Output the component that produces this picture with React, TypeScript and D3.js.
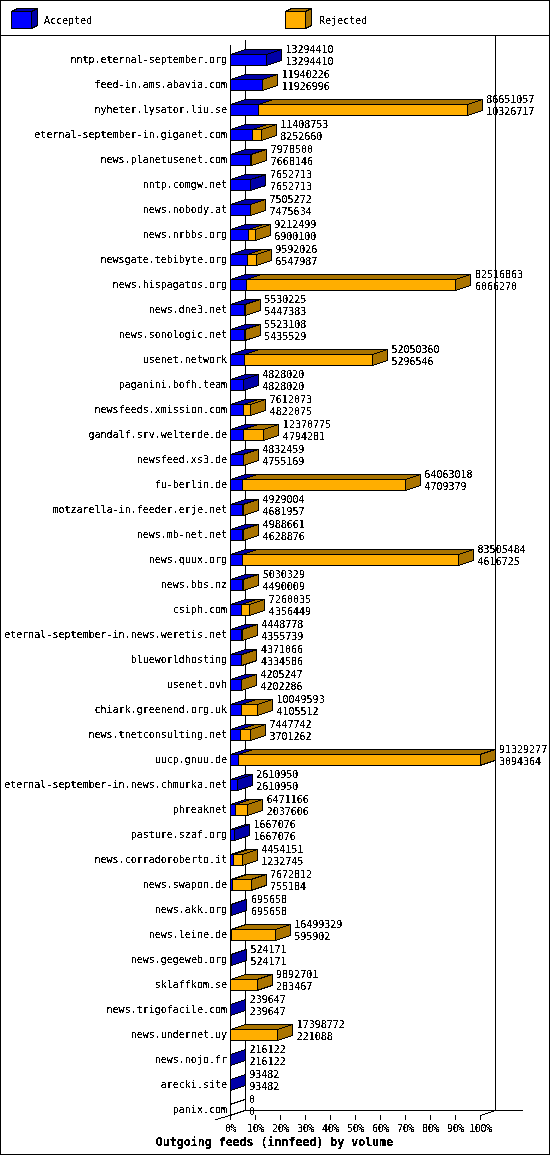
import React from "react";
import * as d3 from "d3";

const hosts = ["nntp.eternal-september.org","feed-in.ams.abavia.com","nyheter.lysator.liu.se","eternal-september-in.giganet.com","news.planetusenet.com","nntp.comgw.net","news.nobody.at","news.nrbbs.org","newsgate.tebibyte.org","news.hispagatos.org","news.dne3.net","news.sonologic.net","usenet.network","paganini.bofh.team","newsfeeds.xmission.com","gandalf.srv.welterde.de","newsfeed.xs3.de","fu-berlin.de","motzarella-in.feeder.erje.net","news.mb-net.net","news.quux.org","news.bbs.nz","csiph.com","eternal-september-in.news.weretis.net","blueworldhosting","usenet.ovh","chiark.greenend.org.uk","news.tnetconsulting.net","uucp.gnuu.de","eternal-september-in.news.chmurka.net","phreaknet","pasture.szaf.org","news.corradoroberto.it","news.swapon.de","news.akk.org","news.leine.de","news.gegeweb.org","sklaffkom.se","news.trigofacile.com","news.undernet.uy","news.nojo.fr","arecki.site","panix.com"];
const offered = [13294410,11940226,86651057,11408753,7978500,7652713,7505272,9212499,9592026,82516863,5530225,5523108,52050360,4828020,7612073,12370775,4832459,64063018,4929004,4988661,83505484,5030329,7260035,4448778,4371066,4205247,10049593,7447742,91329277,2610950,6471166,1667076,4454151,7672812,695658,16499329,524171,9892701,239647,17398772,216122,93482,0];
const accepted = [13294410,11926996,10326717,8252660,7668146,7652713,7475634,6900100,6547987,6066270,5447383,5435529,5296546,4828020,4822075,4794281,4755169,4709379,4681957,4628876,4616725,4490009,4356449,4355739,4334586,4202286,4105512,3701262,3094364,2610950,2037606,1667076,1232745,755184,695658,595902,524171,283467,239647,221088,216122,93482,0];
const legendNames = ["Accepted", "Rejected"];
const percentTicks = [0,10,20,30,40,50,60,70,80,90,100];
const title = "Outgoing feeds (innfeed) by volume";

const BLUE = "#0000ff", BLUE_D = "#0000a8", ORANGE = "#ffae00", ORANGE_D = "#aa7400";
const W = 550, H = 1155;
const DX = 15, DY = 5;
const X0 = 230.5, X1 = 480.5;

const xVal = d3.scaleLinear().domain([0, d3.max(offered) as number]).range([X0 - 0.5, X1 - 0.5]);
const xPct = d3.scaleLinear().domain([0, 100]).range([X0, X1]);
const yRow = d3.scalePoint<string>().domain(hosts).range([59, 1109]);

const poly = (pts: [number, number][]) => d3.line()(pts) + "Z";

function Box({ x0, x1, top, bottom, front, topFill, sideFill, dx = DX, dy = DY }: any) {
  return (
    <g stroke="#000" strokeWidth={1} shapeRendering="crispEdges">
      <path d={poly([[x0, top], [x0 + dx, top - dy], [x1 + dx, top - dy], [x1, top]])} fill={topFill} />
      {sideFill && <path d={poly([[x1, top], [x1 + dx, top - dy], [x1 + dx, bottom - dy], [x1, bottom]])} fill={sideFill} />}
      {x1 > x0 && <rect x={x0} y={top} width={x1 - x0} height={bottom - top} fill={front} />}
    </g>
  );
}

export default function App() {
  return (
    <svg width={W} height={H} style={{ position: "absolute", left: 0, top: 0, background: "#fff" }}
      fontFamily="'DejaVu Sans Mono'" fontSize={10}>
      <defs>
        <filter id="bitmap" x="0" y="0" width={W} height={H} filterUnits="userSpaceOnUse" colorInterpolationFilters="sRGB">
          <feComponentTransfer>
            <feFuncA type="discrete" tableValues="0 0 0 1 1 1 1 1" />
          </feComponentTransfer>
        </filter>
      </defs>
      <g shapeRendering="crispEdges" stroke="#000" fill="none">
        <rect x={0.5} y={0.5} width={W - 1} height={H - 1} />
        <line x1={0} x2={W} y1={35.5} y2={35.5} />
        <line x1={X0 + DX} x2={X0 + DX} y1={40} y2={1110.5} />
        <line x1={X1 + DX} x2={X1 + DX} y1={36} y2={1110.5} />
        <line x1={X0 + DX} x2={523} y1={1110.5} y2={1110.5} />
        <line x1={X0} x2={X0} y1={45} y2={1120} />
        <line x1={215} x2={X0 + DX} y1={1120} y2={1110.5} />
        <line x1={X1} x2={X1 + DX} y1={1115.5} y2={1110.5} />
        {percentTicks.map(t => (
          <line key={t} x1={xPct(t)} x2={xPct(t)} y1={1115} y2={1120} />
        ))}
      </g>
      {hosts.map((h, i) => {
        const cy = yRow(h) as number;
        const top = cy - 4.5, bottom = cy + 6.5;
        const xa = xVal(accepted[i]), xo = xVal(offered[i]);
        const hasRej = offered[i] > accepted[i];
        return (
          <g key={h}>
            <Box x0={X0} x1={xa} top={top} bottom={bottom} front={BLUE} topFill={BLUE_D}
              sideFill={hasRej ? null : (offered[i] === 0 ? "#fff" : BLUE_D)} />
            {hasRej && <Box x0={xa} x1={xo} top={top} bottom={bottom} front={ORANGE} topFill={ORANGE_D} sideFill={ORANGE_D} />}
          </g>
        );
      })}
      <g>
        <Box x0={11.5} x1={31.5} top={11.5} bottom={28.5} dx={6} dy={3} front={BLUE} topFill={BLUE_D} sideFill={BLUE_D} />
        <Box x0={285.5} x1={305.5} top={11.5} bottom={28.5} dx={6} dy={3} front={ORANGE} topFill={ORANGE_D} sideFill={ORANGE_D} />
      </g>
      <g filter="url(#bitmap)" fill="#000">
        <text x={44} y={24}>{legendNames[0]}</text>
        <text x={319} y={24}>{legendNames[1]}</text>
        {hosts.map((h, i) => {
          const cy = yRow(h) as number;
          const tx = xVal(offered[i]) + DX + 4;
          return (
            <g key={h}>
              <text x={227} y={cy + 4} textAnchor="end">{h}</text>
              <text x={tx} y={cy - 6}>{offered[i]}</text>
              <text x={tx} y={cy + 6}>{accepted[i]}</text>
            </g>
          );
        })}
        <g fontSize={10} letterSpacing={-0.4}>
          {percentTicks.map(t => (
            <text key={t} x={xPct(t)} y={1132} textAnchor="middle">{t}%</text>
          ))}
        </g>
        <text x={274.5} y={1146} textAnchor="middle" fontWeight="bold" fontSize={11.6}>{title}</text>
      </g>
    </svg>
  );
}
